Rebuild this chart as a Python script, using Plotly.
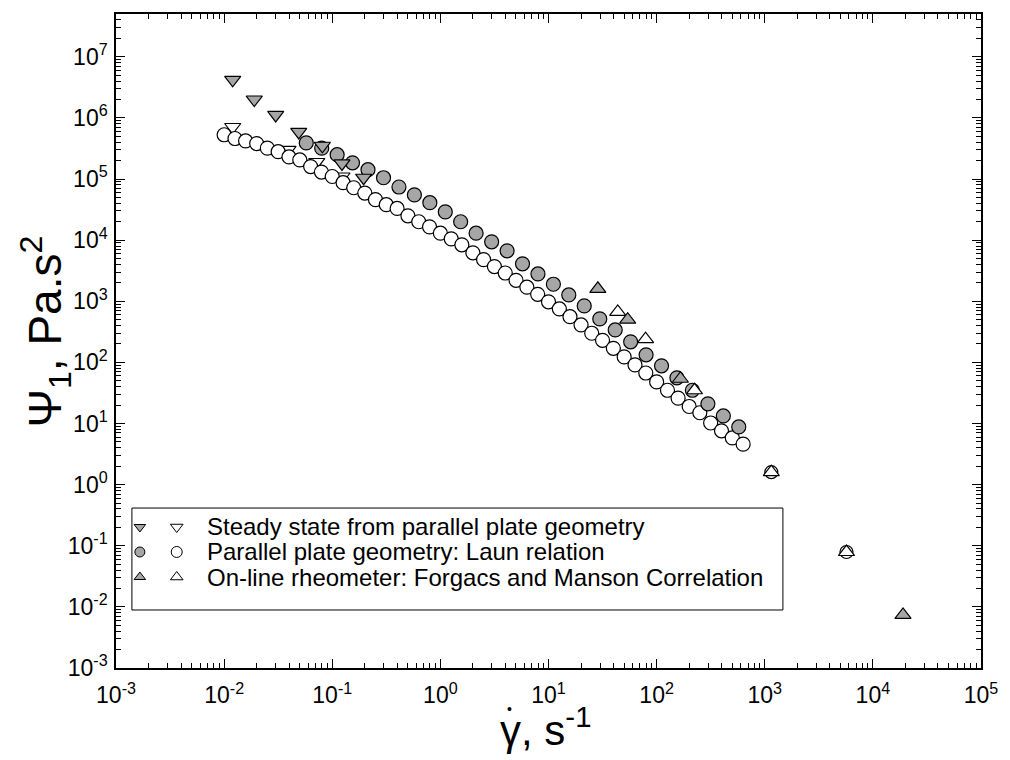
import plotly.graph_objects as go

# ---------------- data ----------------
# Parallel plate geometry: Laun relation (open circles)
x_laun_open = [0.01, 0.0126, 0.0158, 0.02, 0.0251, 0.0316, 0.0398, 0.0501, 0.0631, 0.0794,
               0.1, 0.126, 0.158, 0.2, 0.251, 0.316, 0.398, 0.501, 0.631, 0.794,
               1, 1.26, 1.58, 2.0, 2.51, 3.16, 3.98, 5.01, 6.31, 7.94,
               10, 12.6, 15.8, 20, 25.1, 31.6, 39.8, 50.1, 63.1, 79.4,
               100, 126, 158, 200, 251, 316, 398, 501, 631]
y_laun_open = [5.3e5, 4.6e5, 4.2e5, 3.8e5, 3.2e5, 2.8e5, 2.3e5, 2.05e5, 1.6e5, 1.3e5,
               1.1e5, 8.7e4, 7.2e4, 5.9e4, 4.6e4, 3.8e4, 3.3e4, 2.5e4, 2.0e4, 1.65e4,
               1.3e4, 1.05e4, 8.4e3, 6.2e3, 4.8e3, 3.7e3, 2.9e3, 2.2e3, 1.7e3, 1.3e3,
               980, 750, 560, 410, 300, 230, 170, 123, 91, 67,
               48, 35, 26, 19, 15, 10.2, 7.6, 5.8, 4.6]

# Parallel plate geometry: Laun relation (filled circles)
x_laun_fill = [0.0575, 0.0799, 0.111, 0.154, 0.214, 0.298, 0.414, 0.575, 0.799, 1.11,
               1.54, 2.14, 2.98, 4.14, 5.75, 7.99, 11.1, 15.4, 21.4, 29.8,
               41.4, 57.5, 79.9, 111, 154, 214, 298, 414, 575]
y_laun_fill = [3.9e5, 3.2e5, 2.5e5, 1.84e5, 1.42e5, 1.05e5, 7.4e4, 5.5e4, 4.1e4, 2.9e4,
               2.0e4, 1.3e4, 9.4e3, 6.7e3, 4.1e3, 2.8e3, 1.9e3, 1.27e3, 840, 515,
               340, 217, 133, 88, 56, 35, 21, 13.3, 8.8]

# Steady state from parallel plate geometry
x_steady_fill = [0.012, 0.019, 0.030, 0.049, 0.081, 0.123, 0.195]
y_steady_fill = [4.2e6, 2.0e6, 1.12e6, 5.9e5, 3.5e5, 1.8e5, 1.05e5]
x_steady_open = [0.012, 0.039, 0.072, 0.123]
y_steady_open = [7.1e5, 3.0e5, 1.9e5, 1.1e5]

# On-line rheometer: Forgacs and Manson correlation
x_online_fill = [28.6, 54, 166, 1.9e4]
y_online_fill = [1.6e3, 500, 54, 0.0074]
x_online_open = [43.7, 79, 224, 1150, 5700]
y_online_open = [670, 240, 35, 1.6, 0.079]
# high-rate points drawn with a circle behind the triangle
x_online_ring = [1150, 5700]
y_online_ring = [1.6, 0.079]

legend_labels = ["Steady state from parallel plate geometry",
                 "Parallel plate geometry: Laun relation",
                 "On-line rheometer: Forgacs and Manson Correlation"]

x_exps = list(range(-3, 6))
y_exps = list(range(-3, 8))

# ---------------- style ----------------
GRAY = "#a6a6a6"
LINE = dict(color="black", width=1.2)
FONT = "Liberation Sans, Arial, Helvetica, sans-serif"
SZ_C = 14
SZ_T = 14

fig = go.Figure()


def add(x, y, symbol, fill, size):
    fig.add_trace(go.Scatter(x=x, y=y, mode="markers", showlegend=False,
                             marker=dict(symbol=symbol, size=size, color=fill, line=LINE)))


add(x_steady_open, y_steady_open, "triangle-down", "white", SZ_T)
add(x_laun_open, y_laun_open, "circle", "white", SZ_C)
add(x_laun_fill, y_laun_fill, "circle", GRAY, SZ_C)
add(x_steady_fill, y_steady_fill, "triangle-down", GRAY, SZ_T)
add(x_online_ring, y_online_ring, "circle", "white", 13)
add(x_online_open, y_online_open, "triangle-up", "white", SZ_T)
add(x_online_fill, y_online_fill, "triangle-up", GRAY, SZ_T)

# ---------------- custom legend (two symbols per row) ----------------
lx0, lx1 = 0.0184, 0.771
ly0, ly1 = 0.0887, 0.2446
row_y = [0.2156, 0.1774, 0.1391]
sym_fill = ["triangle-down", "circle", "triangle-up"]
sym_open = ["triangle-down", "circle", "triangle-up"]
for i in range(3):
    fig.add_trace(go.Scatter(x=[0.0276], y=[row_y[i]], xaxis="x2", yaxis="y2", mode="markers",
                             showlegend=False, hoverinfo="skip",
                             marker=dict(symbol=sym_fill[i], size=10, color=GRAY,
                                         line=dict(color="black", width=1))))
    fig.add_trace(go.Scatter(x=[0.0702], y=[row_y[i]], xaxis="x2", yaxis="y2", mode="markers",
                             showlegend=False, hoverinfo="skip",
                             marker=dict(symbol=sym_open[i], size=11, color="white",
                                         line=dict(color="black", width=1))))
    fig.add_annotation(x=0.1024, y=row_y[i], xref="paper", yref="paper", text=legend_labels[i],
                       showarrow=False, xanchor="left", yanchor="middle",
                       font=dict(family=FONT, size=24, color="black"))

fig.add_shape(type="rect", xref="paper", yref="paper", x0=lx0, x1=lx1, y0=ly0, y1=ly1,
              line=dict(color="black", width=1), fillcolor="rgba(0,0,0,0)")

# ---------------- axes ----------------
x_minor = [m * 10.0 ** p for p in range(-3, 5) for m in range(2, 10)]
y_minor = [m * 10.0 ** p for p in range(-3, 8) for m in range(2, 10) if m * 10.0 ** p < 5e7]

axis_common = dict(showline=True, linecolor="black", linewidth=1.5, mirror="allticks",
                   ticks="inside", ticklen=9, tickwidth=1, tickcolor="black",
                   showgrid=False, zeroline=False,
                   tickfont=dict(family=FONT, size=23, color="black"))

fig.update_layout(
    width=1010, height=760,
    margin=dict(l=116, r=25, t=14, b=92),
    paper_bgcolor="white", plot_bgcolor="white",
    xaxis=dict(type="log", range=[-3, 5],
               tickmode="array", tickvals=[10.0 ** e for e in x_exps],
               ticktext=["10<sup>%d</sup>" % e for e in x_exps],
               minor=dict(tickmode="array", tickvals=x_minor, ticks="inside", ticklen=5,
                          tickcolor="black", showgrid=False),
               ticklabelstandoff=6,
               **axis_common),
    yaxis=dict(type="log", range=[-3, 7.7],
               tickmode="array", tickvals=[10.0 ** e for e in y_exps],
               ticktext=["10<sup>%d</sup>" % e for e in y_exps],
               minor=dict(tickmode="array", tickvals=y_minor, ticks="inside", ticklen=5,
                          tickcolor="black", showgrid=False),
               ticklabelstandoff=2,
               **axis_common),
    xaxis2=dict(overlaying="x", range=[0, 1], visible=False, fixedrange=True),
    yaxis2=dict(overlaying="y", range=[0, 1], visible=False, fixedrange=True),
    showlegend=False,
)

# axis titles
fig.add_annotation(x=-0.0817, y=0.515, xref="paper", yref="paper", textangle=-90,
                   xanchor="center", yanchor="middle",
                   text="Ψ<sub>1</sub>, Pa.s<sup>2</sup>", showarrow=False,
                   font=dict(family=FONT, size=46, color="black"))
fig.add_annotation(x=0.4419, y=-0.090, xref="paper", yref="paper",
                   xanchor="left", yanchor="middle",
                   text="γ, s<sup>-1</sup>", showarrow=False,
                   font=dict(family=FONT, size=42, color="black"))
# the dot over gamma
fig.add_annotation(x=0.4545, y=-0.0625, xref="paper", yref="paper",
                   xanchor="center", yanchor="middle",
                   text="\u2022", showarrow=False,
                   font=dict(family=FONT, size=14, color="black"))

fig.write_html("out.html")
